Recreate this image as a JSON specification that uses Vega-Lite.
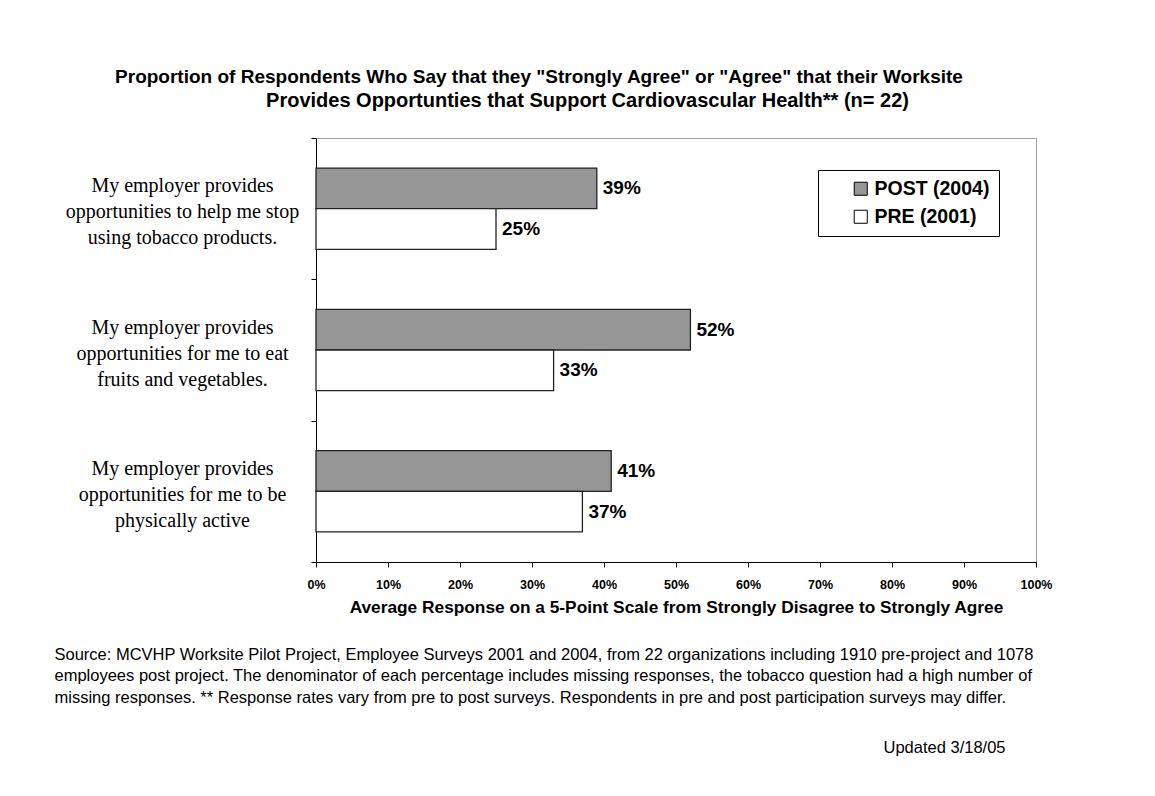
{
  "$schema": "https://vega.github.io/schema/vega-lite/v6.json",
  "width": 720,
  "height": 424,
  "autosize": {"type": "none"},
  "padding": {"left": 316, "top": 138, "right": 119, "bottom": 234},
  "background": "white",
  "title": {
    "text": "Proportion of Respondents Who Say that they \"Strongly Agree\" or \"Agree\" that their Worksite",
    "anchor": "middle",
    "dx": -137,
    "offset": 3,
    "font": "Liberation Sans",
    "fontSize": 19,
    "fontWeight": "bold",
    "color": "black"
  },
  "data": {
    "values": [
      {"question": "My employer provides\nopportunities to help me stop\nusing tobacco products.", "series": "POST (2004)", "value": 0.39},
      {"question": "My employer provides\nopportunities to help me stop\nusing tobacco products.", "series": "PRE (2001)", "value": 0.25},
      {"question": "My employer provides\nopportunities for me to eat\nfruits and vegetables.", "series": "POST (2004)", "value": 0.52},
      {"question": "My employer provides\nopportunities for me to eat\nfruits and vegetables.", "series": "PRE (2001)", "value": 0.33},
      {"question": "My employer provides\nopportunities for me to be\nphysically active", "series": "POST (2004)", "value": 0.41},
      {"question": "My employer provides\nopportunities for me to be\nphysically active", "series": "PRE (2001)", "value": 0.37}
    ]
  },
  "encoding": {
    "yOffset": {
      "field": "series",
      "type": "nominal",
      "sort": ["POST (2004)", "PRE (2001)"],
      "scale": {"paddingInner": 0, "paddingOuter": 0.74}
    }
  },
  "layer": [
    {
      "mark": {"type": "bar", "stroke": "#222222", "strokeWidth": 1.3},
      "encoding": {
        "y": {
          "field": "question",
          "type": "nominal",
          "sort": null,
          "scale": {"paddingInner": 0, "paddingOuter": 0},
          "axis": {
            "title": "Updated 3/18/05",
            "titleAngle": 0,
            "titleX": 567,
            "titleY": 609,
            "titleAlign": "left",
            "titleBaseline": "middle",
            "titleFont": "Liberation Sans",
            "titleFontSize": 16.5,
            "titleFontWeight": "normal",
            "titleColor": "black",
            "titleLimit": 2000,
            "labelExpr": "split(datum.label, '\\n')",
            "labelFont": "Liberation Serif",
            "labelFontSize": 20,
            "labelLineHeight": 26,
            "labelAlign": "center",
            "labelBaseline": "middle",
            "labelPadding": 129,
            "labelOffset": -23,
            "labelColor": "black",
            "labelLimit": 1000,
            "labelAngle": 0,
            "tickBand": "extent",
            "tickSize": 5,
            "tickColor": "black",
            "domainColor": "black",
            "grid": false
          }
        },
        "x": {
          "field": "value",
          "type": "quantitative",
          "scale": {"domain": [0, 1]},
          "axis": {
            "values": [0, 0.1, 0.2, 0.3, 0.4, 0.5, 0.6, 0.7, 0.8, 0.9, 1],
            "format": ".0%",
            "labelFont": "Liberation Sans",
            "labelFontSize": 12.5,
            "labelFontWeight": "bold",
            "labelColor": "black",
            "labelPadding": 11,
            "labelFlush": false,
            "labelOverlap": false,
            "tickSize": 5,
            "tickColor": "black",
            "domainColor": "black",
            "grid": false,
            "title": "Average Response  on a 5-Point Scale from Strongly Disagree to Strongly Agree",
            "titleFont": "Liberation Sans",
            "titleFontSize": 17.3,
            "titleFontWeight": "bold",
            "titleColor": "black",
            "titlePadding": 8,
            "titleLimit": 2000
          }
        },
        "color": {
          "field": "series",
          "type": "nominal",
          "sort": ["POST (2004)", "PRE (2001)"],
          "scale": {"domain": ["POST (2004)", "PRE (2001)"], "range": ["#969696", "#ffffff"]},
          "legend": {
            "title": null,
            "orient": "none",
            "legendX": 502,
            "legendY": 32,
            "strokeColor": "black",
            "fillColor": "white",
            "padding": 9,
            "symbolType": "square",
            "symbolSize": 170,
            "symbolStrokeColor": "black",
            "symbolStrokeWidth": 1,
            "symbolOffset": 24,
            "labelFont": "Liberation Sans",
            "labelFontSize": 19.5,
            "labelFontWeight": "bold",
            "labelColor": "black",
            "labelOffset": 4,
            "rowPadding": 7
          }
        }
      }
    },
    {
      "mark": {
        "type": "text",
        "align": "left",
        "dx": 6,
        "baseline": "middle",
        "font": "Liberation Sans",
        "fontSize": 19,
        "fontWeight": "bold",
        "color": "black"
      },
      "encoding": {
        "y": {
          "field": "question",
          "type": "nominal",
          "sort": null,
          "scale": {"paddingInner": 0, "paddingOuter": 0},
          "axis": {
            "orient": "right",
            "domain": false,
            "ticks": false,
            "labels": false,
            "grid": false,
            "title": "Provides Opportunties that Support Cardiovascular Health** (n= 22)",
            "titleAngle": 0,
            "titleX": -449,
            "titleY": -38,
            "titleAlign": "center",
            "titleBaseline": "middle",
            "titleFont": "Liberation Sans",
            "titleFontSize": 20,
            "titleFontWeight": "bold",
            "titleColor": "black",
            "titleLimit": 2000
          }
        },
        "x": {
          "field": "value",
          "type": "quantitative",
          "scale": {"domain": [0, 1]},
          "axis": {
            "orient": "bottom",
            "domain": false,
            "ticks": false,
            "labels": false,
            "grid": false,
            "title": [
              "Source: MCVHP Worksite Pilot Project, Employee Surveys 2001 and 2004, from 22 organizations including 1910 pre-project and 1078",
              "employees post project. The denominator of each percentage includes missing responses, the tobacco question had a high number of",
              "missing responses. ** Response rates vary from pre to post surveys. Respondents in pre and post participation surveys may differ."
            ],
            "titleX": -262,
            "titleY": 84,
            "titleAlign": "left",
            "titleAnchor": "start",
            "titleBaseline": "top",
            "titleFont": "Liberation Sans",
            "titleFontSize": 16.5,
            "titleFontWeight": "normal",
            "titleColor": "black",
            "titleLineHeight": 21.5,
            "titleLimit": 2000
          }
        },
        "text": {"field": "value", "type": "quantitative", "format": ".0%"}
      }
    }
  ],
  "resolve": {
    "scale": {"x": "independent", "y": "independent"},
    "axis": {"x": "independent", "y": "independent"}
  },
  "config": {
    "view": {"stroke": "#a0a0a0", "strokeWidth": 1}
  }
}
